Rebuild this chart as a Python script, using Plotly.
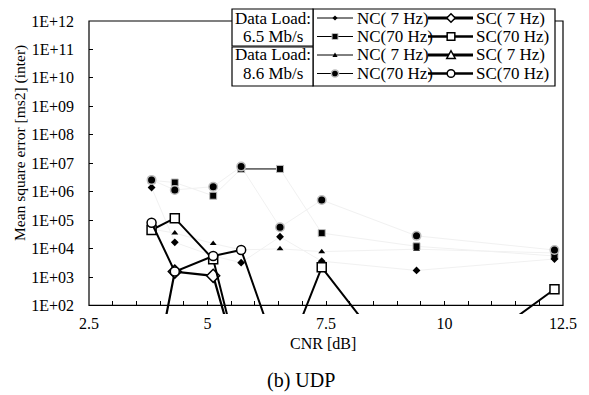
import plotly.graph_objects as go

# CNR measurement points [dB]
cnr = [3.82, 4.31, 5.12, 5.71, 6.53, 7.41, 9.41, 12.32]

# Data load 6.5 Mb/s
nc7_65 = [1.4e6, 1.66e4, 5.5e3, 3.2e3, 2.6e4, 3.6e3, 1.7e3, 4.3e3]
nc70_65 = [2.5e6, 2.1e6, 7.2e5, 6.3e6, 6.3e6, 3.5e4, 1.2e4, 5.5e3]
sc7_65 = [0.1, 1.55e3, 1.1e3, 0.4, None, None, None, None]
sc70_65 = [4.5e4, 1.17e5, 4.2e3, 0.5, 0.42, 2.2e3, 0.11, 3.7e2]

# Data load 8.6 Mb/s
nc7_86 = [4.9e4, 3.5e4, 1.5e4, 9.0e3, 9.8e3, 7.8e3, 9.5e3, 7.0e3]
nc70_86 = [2.6e6, 1.15e6, 1.5e6, 7.6e6, 5.6e4, 5.1e5, 2.8e4, 8.9e3]
sc7_86 = [None, None, None, None, None, None, None, None]
sc70_86 = [8.1e4, 1.55e3, 5.5e3, 8.9e3, 1.1, None, None, None]

ytick_vals = [1e2, 1e3, 1e4, 1e5, 1e6, 1e7, 1e8, 1e9, 1e10, 1e11, 1e12]
ytick_text = ["1E+02", "1E+03", "1E+04", "1E+05", "1E+06", "1E+07",
              "1E+08", "1E+09", "1E+10", "1E+11", "1E+12"]
xtick_vals = [2.5, 5, 7.5, 10, 12.5]
xtick_text = ["2.5", "5", "7.5", "10", "12.5"]

FONT = "Liberation Serif"
W, H = 589, 395
L, R, T, B = 89, 563, 21, 314          # plot area in pixels
YMIN, YMAX = 1.7, 12.0                  # log10 range (a little below 1E+02)
Y_FLOOR = (2 - YMIN) / (YMAX - YMIN)    # paper y of the 1E+02 axis line


def px(x):
    return (x - L) / (R - L)


def py(y):
    return (B - y) / (B - T)


GREY_RING = "#bdbdbd"
FAINT = "#f1f1f1"

# marker / line styles per series
styles = {
    "nc7_65": dict(symbol="diamond", size=6, color="black", lc="black", lw=0, line=1),
    "nc70_65": dict(symbol="square", size=7, color="black", lc=GREY_RING, lw=1, line=1),
    "nc7_86": dict(symbol="triangle-up", size=6, color="black", lc="black", lw=0, line=1),
    "nc70_86": dict(symbol="circle", size=8.5, color="black", lc=GREY_RING, lw=1.5, line=1),
    "sc7_65": dict(symbol="diamond", size=10, color="white", lc="black", lw=1.5, line=2.2),
    "sc70_65": dict(symbol="square", size=9, color="white", lc="black", lw=1.5, line=2.0),
    "sc7_86": dict(symbol="triangle-up", size=10, color="white", lc="black", lw=1.5, line=2.2),
    "sc70_86": dict(symbol="circle", size=9, color="white", lc="black", lw=1.5, line=2.0),
}
series = {
    "nc7_65": nc7_65, "nc70_65": nc70_65, "nc7_86": nc7_86, "nc70_86": nc70_86,
    "sc7_65": sc7_65, "sc70_65": sc70_65, "sc7_86": sc7_86, "sc70_86": sc70_86,
}

fig = go.Figure()

# NC series: hairline connections
for key in ["nc7_65", "nc70_65", "nc7_86", "nc70_86"]:
    fig.add_trace(go.Scatter(x=cnr, y=series[key], mode="lines",
                             line=dict(color=FAINT, width=1), hoverinfo="skip"))
# the flat NC(70 Hz) 6.5 Mb/s segment stays dark
fig.add_trace(go.Scatter(x=cnr[3:5], y=nc70_65[3:5], mode="lines",
                         line=dict(color="black", width=1), hoverinfo="skip"))

# NC markers
for key in ["nc70_65", "nc7_86", "nc7_65", "nc70_86"]:
    s = styles[key]
    fig.add_trace(go.Scatter(
        x=cnr, y=series[key], mode="markers",
        marker=dict(symbol=s["symbol"], size=s["size"], color=s["color"],
                    line=dict(color=s["lc"], width=s["lw"]))))

# SC series: thick lines with open markers
for key in ["sc7_86", "sc7_65", "sc70_65", "sc70_86"]:
    s = styles[key]
    fig.add_trace(go.Scatter(
        x=cnr, y=series[key], mode="lines+markers",
        line=dict(color="black", width=s["line"]),
        marker=dict(symbol=s["symbol"], size=s["size"], color=s["color"],
                    line=dict(color=s["lc"], width=s["lw"]))))

shapes = []
# plot frame
shapes.append(dict(type="rect", xref="paper", yref="paper", x0=0, x1=1, y0=Y_FLOOR, y1=1,
                   line=dict(color="black", width=1.2), layer="above"))


def box(x0, y0, x1, y1):
    return dict(type="rect", xref="paper", yref="paper",
                x0=px(x0), x1=px(x1), y0=py(y1), y1=py(y0),
                fillcolor="white", line=dict(color="black", width=1.2), layer="above")


# legend frames
shapes.append(box(313, 9, 555, 86))
shapes.append(box(232, 9, 313, 46))
shapes.append(box(232, 47, 313, 86))


def marker_shape(cx, cy, key, scale=1.0):
    s = styles[key]
    h = s["size"] * scale / 2
    line = dict(color=s["lc"], width=s["lw"]) if s["lw"] > 0 else dict(width=0)
    base = dict(xref="paper", yref="paper", fillcolor=s["color"], line=line, layer="above")
    sym = s["symbol"]
    if sym == "circle":
        return dict(type="circle", x0=px(cx - h), x1=px(cx + h), y0=py(cy + h), y1=py(cy - h), **base)
    if sym == "square":
        return dict(type="rect", x0=px(cx - h), x1=px(cx + h), y0=py(cy + h), y1=py(cy - h), **base)
    if sym == "diamond":
        pts = [(cx, cy - h), (cx + h, cy), (cx, cy + h), (cx - h, cy)]
    else:
        pts = [(cx, cy - h), (cx + h, cy + h * 0.8), (cx - h, cy + h * 0.8)]
    path = "M " + " L ".join(f"{px(a):.5f},{py(b):.5f}" for a, b in pts) + " Z"
    return dict(type="path", path=path, **base)


annotations = []
rows = [18, 36.5, 55, 73.5]
legend_rows = [("nc7_65", "NC( 7 Hz)", "sc7_65", "SC( 7 Hz)"),
               ("nc70_65", "NC(70 Hz)", "sc70_65", "SC(70 Hz)"),
               ("nc7_86", "NC( 7 Hz)", "sc7_86", "SC( 7 Hz)"),
               ("nc70_86", "NC(70 Hz)", "sc70_86", "SC(70 Hz)")]
for yy, (k1, t1, k2, t2) in zip(rows, legend_rows):
    shapes.append(dict(type="line", xref="paper", yref="paper", x0=px(317), x1=px(353),
                       y0=py(yy), y1=py(yy), line=dict(color="black", width=1), layer="above"))
    shapes.append(marker_shape(335, yy, k1, 0.85))
    shapes.append(dict(type="line", xref="paper", yref="paper", x0=px(428), x1=px(473),
                       y0=py(yy), y1=py(yy), line=dict(color="black", width=styles[k2]["line"] + 0.6),
                       layer="above"))
    shapes.append(marker_shape(451, yy, k2, 0.85))
    for xx, txt in ((355, t1), (474, t2)):
        annotations.append(dict(x=px(xx), y=py(yy), xref="paper", yref="paper", text=txt,
                                showarrow=False, xanchor="left", yanchor="middle",
                                font=dict(family=FONT, size=17, color="black")))

for yy, txt in zip(rows, ["Data Load:", "6.5 Mb/s", "Data Load:", "8.6 Mb/s"]):
    annotations.append(dict(x=px(272.5), y=py(yy), xref="paper", yref="paper", text=txt,
                            showarrow=False, xanchor="center", yanchor="middle",
                            font=dict(family=FONT, size=17, color="black")))

# axis titles and caption
annotations.append(dict(x=px(20), y=py(143), xref="paper", yref="paper",
                        text="Mean square error [ms2] (inter)", textangle=-90,
                        showarrow=False, xanchor="center", yanchor="middle",
                        font=dict(family=FONT, size=15.5, color="black")))
annotations.append(dict(x=px(323), y=py(343), xref="paper", yref="paper", text="CNR [dB]",
                        showarrow=False, xanchor="center", yanchor="middle",
                        font=dict(family=FONT, size=16, color="black")))
annotations.append(dict(x=px(301), y=py(380), xref="paper", yref="paper", text="(b) UDP",
                        showarrow=False, xanchor="center", yanchor="middle",
                        font=dict(family=FONT, size=20, color="black")))

fig.update_layout(
    width=W, height=H,
    margin=dict(l=L, r=W - R, t=T, b=H - B, pad=0),
    paper_bgcolor="white", plot_bgcolor="white",
    showlegend=False,
    shapes=shapes, annotations=annotations,
    xaxis=dict(range=[2.5, 12.5], anchor="free", position=Y_FLOOR,
               tickvals=xtick_vals, ticktext=xtick_text,
               ticks="inside", ticklen=4, tickcolor="black", tickwidth=1,
               ticklabelstandoff=3,
               minor=dict(dtick=0.5, tick0=2.5, ticks="inside", ticklen=4,
                          tickcolor="black", tickwidth=1, showgrid=False),
               showgrid=False, zeroline=False, showline=True, linecolor="black",
               tickfont=dict(family=FONT, size=16, color="black")),
    yaxis=dict(type="log", range=[YMIN, YMAX],
               tickvals=ytick_vals, ticktext=ytick_text,
               ticks="inside", ticklen=4, tickcolor="black", tickwidth=1,
               ticklabelstandoff=14,
               showgrid=False, zeroline=False, showline=False,
               tickfont=dict(family=FONT, size=16, color="black")),
)

fig.write_html("out.html")
